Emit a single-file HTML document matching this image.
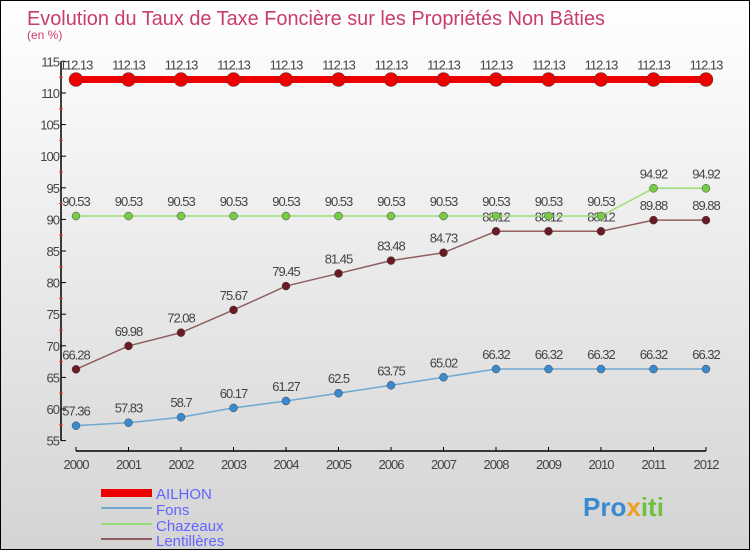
<!DOCTYPE html>
<html><head><meta charset="utf-8"><style>
body{margin:0;width:750px;height:550px;overflow:hidden;font-family:"Liberation Sans",sans-serif}
#wrap{position:relative;width:748px;height:548px;border:1px solid #000;background:linear-gradient(#fff,#d4d4d4)}
</style></head><body>
<div id="wrap">
<svg id="chart" width="748" height="548">
<text x="26" y="24" font-size="20" textLength="578" lengthAdjust="spacingAndGlyphs" fill="#c83c6e">Evolution du Taux de Taxe Foncière sur les Propriétés Non Bâties</text>
<text x="26" y="38" font-size="12" fill="#c83c6e">(en %)</text>
<g id="axes"></g><g id="series"></g>
<g>
<rect x="100" y="488" width="51" height="8" fill="#e00"/>
<text x="155" y="498" font-size="15" fill="#6464ff">AILHON</text>
<line x1="100" y1="507" x2="151" y2="507" stroke="#6fa8d0" stroke-width="2"/>
<text x="155" y="514" font-size="15" fill="#6464ff">Fons</text>
<line x1="100" y1="523" x2="151" y2="523" stroke="#99dd77" stroke-width="2"/>
<text x="155" y="530" font-size="15" fill="#6464ff">Chazeaux</text>
<line x1="100" y1="538" x2="151" y2="538" stroke="#906060" stroke-width="2"/>
<text x="155" y="545" font-size="15" fill="#6464ff">Lentillères</text>
</g>
<text x="582" y="515" font-size="26" font-weight="bold" fill="#3a8ad0">Pro<tspan fill="#f0a020">x</tspan><tspan fill="#70c040">iti</tspan></text>
</svg></div>
<script>
const years=[2000,2001,2002,2003,2004,2005,2006,2007,2008,2009,2010,2011,2012];
const ailhon=[112.13,112.13,112.13,112.13,112.13,112.13,112.13,112.13,112.13,112.13,112.13,112.13,112.13];
const fons=[57.36,57.83,58.7,60.17,61.27,62.5,63.75,65.02,66.32,66.32,66.32,66.32,66.32];
const chazeaux=[90.53,90.53,90.53,90.53,90.53,90.53,90.53,90.53,90.53,90.53,90.53,94.92,94.92];
const lentilleres=[66.28,69.98,72.08,75.67,79.45,81.45,83.48,84.73,88.12,88.12,88.12,89.88,89.88];
const yTicks=[55,60,65,70,75,80,85,90,95,100,105,110,115];
const NS="http://www.w3.org/2000/svg";
const xS=i=>75+i*52.5;
const yS=v=>439.6-(v-55)*6.32;
function mk(t,a,p){const e=document.createElementNS(NS,t);for(const k in a)e.setAttribute(k,a[k]);p.appendChild(e);return e;}
const ax=document.getElementById('axes');
let yl=mk('line',{x1:60,y1:yS(115),x2:60,y2:yS(55),stroke:'#000','stroke-width':1.5},ax);


let xl=mk('line',{x1:75,y1:450,x2:705,y2:450,stroke:'#000','stroke-width':1.5},ax);


yTicks.forEach(v=>{
 mk('line',{x1:60,y1:yS(v),x2:65,y2:yS(v),stroke:'#000'},ax);
 if(v<115)mk('line',{x1:58,y1:yS(v+2.5),x2:62,y2:yS(v+2.5),stroke:'#f33'},ax);
 const t=mk('text',{x:58,y:yS(v)+5,'text-anchor':'end','font-size':13,fill:'#444','letter-spacing':'-1'},ax);
 t.textContent=v;
 
 
});
years.forEach((y,i)=>{
 mk('line',{x1:xS(i),y1:446,x2:xS(i),y2:450,stroke:'#000'},ax);
 const t=mk('text',{x:xS(i),y:468,'text-anchor':'middle','font-size':13,fill:'#444','letter-spacing':'-1'},ax);
 t.textContent=y;
 
 
});
const sg=document.getElementById('series');
function series(name,data,color,dot,w,r){
 const g=mk('g',{},sg);
 
 
 const pl=mk('polyline',{points:data.map((v,i)=>xS(i)+','+yS(v)).join(' '),fill:'none',stroke:color,'stroke-width':w},g);
 
 
 data.forEach((v,i)=>{
  const c=mk('circle',{cx:xS(i),cy:yS(v),r:r,fill:dot,stroke:'#444','stroke-width':0.5},g);
  
  
  const t=mk('text',{x:xS(i),y:yS(v)-10,'text-anchor':'middle','font-size':13,fill:'#444','letter-spacing':'-1'},g);
  t.textContent=v;
  
  
 });
}
series('fons',fons,'#6fa8d0','#3a8ad0',1.5,4);
series('lentilleres',lentilleres,'#906060','#6a1a24',1.5,4);
series('chazeaux',chazeaux,'#99dd77','#77cc44',1.5,4);
series('ailhon',ailhon,'#e00','#e00',7,7);
</script>
</body></html>
